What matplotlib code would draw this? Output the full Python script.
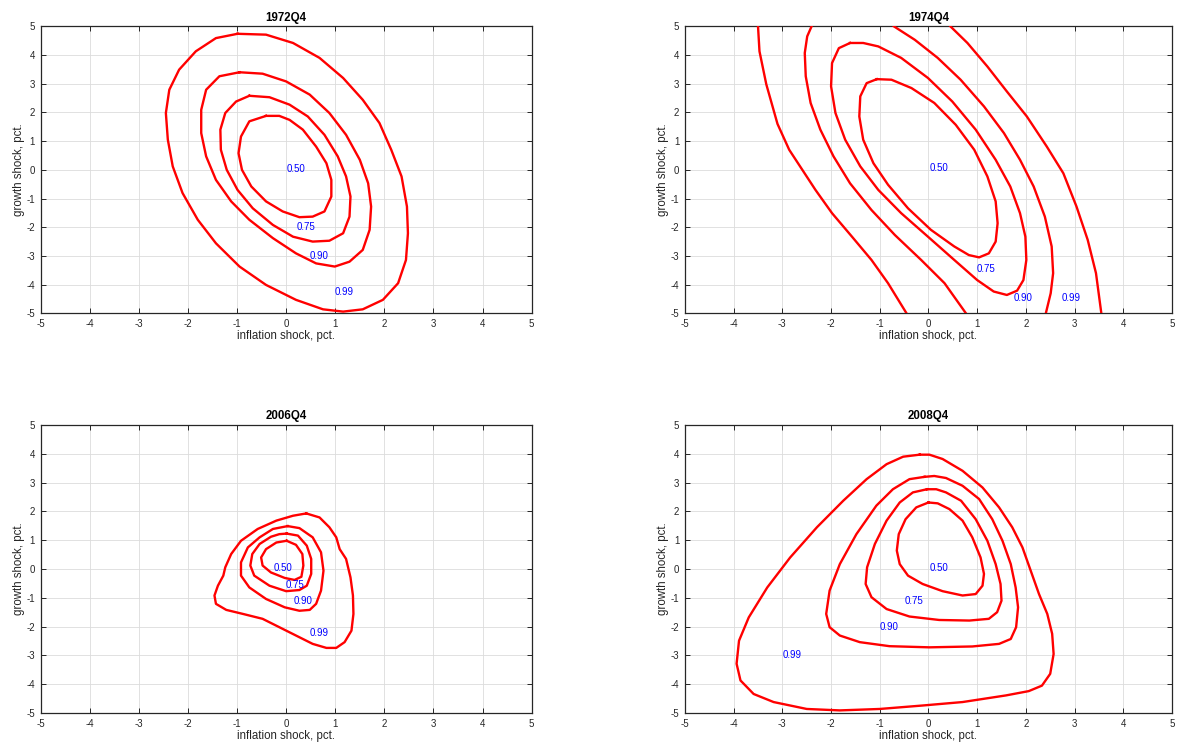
import matplotlib.pyplot as plt

# contour points, (inflation shock, growth shock)
q72_50 = [(-0.41, 1.88), (-0.75, 1.69), (-0.92, 1.16), (-0.97, 0.58), (-0.90, 0.0),
          (-0.71, -0.58), (-0.41, -1.10), (-0.07, -1.45), (0.27, -1.65), (0.54, -1.63),
          (0.78, -1.45), (0.92, -0.93), (0.92, -0.35), (0.82, 0.23), (0.61, 0.81),
          (0.34, 1.40), (0.07, 1.74), (-0.14, 1.88)]
q72_75 = [(-0.75, 2.58), (-1.02, 2.38), (-1.24, 1.98), (-1.34, 1.40), (-1.33, 0.70),
          (-1.21, 0.0), (-0.99, -0.70), (-0.68, -1.34), (-0.27, -1.92), (0.14, -2.33),
          (0.54, -2.50), (0.88, -2.47), (1.16, -2.21), (1.29, -1.63), (1.31, -0.93),
          (1.22, -0.23), (1.05, 0.47), (0.78, 1.22), (0.44, 1.86), (0.07, 2.27),
          (-0.34, 2.53)]
q72_90 = [(-0.95, 3.40), (-1.36, 3.26), (-1.63, 2.79), (-1.73, 2.09), (-1.73, 1.28),
          (-1.63, 0.47), (-1.43, -0.35), (-1.12, -1.10), (-0.75, -1.74), (-0.27, -2.38),
          (0.20, -2.91), (0.61, -3.26), (0.99, -3.37), (1.29, -3.20), (1.56, -2.79),
          (1.70, -2.09), (1.73, -1.28), (1.67, -0.47), (1.50, 0.35), (1.22, 1.22),
          (0.88, 1.98), (0.48, 2.62), (0.0, 3.08), (-0.48, 3.35)]
q72_99 = [(-0.99, 4.74), (-1.43, 4.59), (-1.84, 4.13), (-2.18, 3.49), (-2.38, 2.79),
          (-2.45, 1.98), (-2.41, 1.05), (-2.31, 0.12), (-2.11, -0.81), (-1.80, -1.74),
          (-1.43, -2.56), (-0.95, -3.37), (-0.41, -4.01), (0.20, -4.53), (0.75, -4.86),
          (1.16, -4.94), (1.56, -4.86), (1.97, -4.53), (2.28, -3.95), (2.44, -3.14),
          (2.48, -2.21), (2.46, -1.28), (2.35, -0.23), (2.14, 0.70), (1.90, 1.63),
          (1.56, 2.44), (1.16, 3.20), (0.68, 3.90), (0.14, 4.42), (-0.41, 4.71)]

q74_50 = [(-1.06, 3.16), (-1.27, 3.02), (-1.40, 2.56), (-1.42, 1.86), (-1.34, 1.05),
          (-1.13, 0.23), (-0.83, -0.52), (-0.42, -1.34), (0.05, -2.09), (0.53, -2.67),
          (0.83, -2.97), (1.04, -3.05), (1.24, -2.91), (1.38, -2.50), (1.42, -1.86),
          (1.38, -1.10), (1.21, -0.23), (0.94, 0.70), (0.56, 1.57), (0.12, 2.33),
          (-0.35, 2.85), (-0.76, 3.14)]
q74_75 = [(-1.61, 4.42), (-1.84, 4.24), (-1.98, 3.72), (-2.00, 2.91), (-1.91, 1.98),
          (-1.71, 1.05), (-1.40, 0.12), (-1.03, -0.70), (-0.56, -1.51), (-0.01, -2.33),
          (0.53, -3.14), (1.00, -3.84), (1.34, -4.24), (1.61, -4.36), (1.82, -4.21),
          (1.95, -3.84), (2.01, -3.14), (1.99, -2.33), (1.88, -1.51), (1.68, -0.58),
          (1.38, 0.35), (0.97, 1.40), (0.49, 2.38), (-0.01, 3.20), (-0.56, 3.90),
          (-1.03, 4.30), (-1.34, 4.42)]
q74_90_a = [(-2.40, 5.0), (-2.49, 4.65), (-2.54, 4.07), (-2.52, 3.26), (-2.42, 2.33),
            (-2.22, 1.40), (-1.95, 0.47), (-1.61, -0.47), (-1.17, -1.40), (-0.69, -2.27),
            (-0.15, -3.14), (0.33, -3.95), (0.77, -5.0)]
q74_90_b = [(-0.71, 5.0), (-0.28, 4.53), (0.19, 3.90), (0.66, 3.14), (1.14, 2.21),
            (1.55, 1.28), (1.88, 0.35), (2.16, -0.58), (2.39, -1.63), (2.53, -2.67),
            (2.56, -3.60), (2.51, -4.30), (2.41, -5.0)]
q74_99_a = [(-3.50, 5.0), (-3.47, 4.13), (-3.33, 2.98), (-3.10, 1.60), (-2.86, 0.70),
            (-2.59, 0.0), (-2.32, -0.70), (-1.98, -1.51), (-1.57, -2.33), (-1.17, -3.14),
            (-0.83, -3.95), (-0.45, -5.0)]
q74_99_b = [(0.45, 5.0), (0.80, 4.42), (1.21, 3.60), (1.61, 2.73), (2.02, 1.86),
            (2.43, 0.81), (2.77, -0.12), (3.04, -1.28), (3.27, -2.44), (3.44, -3.60),
            (3.55, -5.0)]

q06_50 = [(0.01, 0.98), (0.20, 0.84), (0.33, 0.52), (0.35, 0.12), (0.31, -0.27),
          (0.17, -0.38), (-0.03, -0.31), (-0.31, -0.12), (-0.48, 0.12), (-0.51, 0.40),
          (-0.41, 0.69), (-0.20, 0.92)]
q06_75 = [(0.01, 1.23), (0.24, 1.16), (0.42, 0.81), (0.51, 0.35), (0.51, -0.17),
          (0.42, -0.58), (0.27, -0.73), (0.0, -0.77), (-0.34, -0.58), (-0.65, -0.23),
          (-0.73, 0.12), (-0.69, 0.52), (-0.54, 0.87), (-0.31, 1.12), (-0.14, 1.21)]
q06_90 = [(0.03, 1.49), (0.27, 1.42), (0.54, 1.10), (0.71, 0.58), (0.76, -0.06),
          (0.71, -0.75), (0.61, -1.21), (0.48, -1.42), (0.27, -1.45), (-0.03, -1.33),
          (-0.41, -1.04), (-0.75, -0.64), (-0.92, -0.23), (-0.92, 0.23), (-0.78, 0.75),
          (-0.54, 1.10), (-0.27, 1.39)]
q06_99 = [(0.41, 1.93), (0.14, 1.85), (-0.20, 1.68), (-0.58, 1.39), (-0.92, 0.98),
          (-1.12, 0.52), (-1.24, 0.06), (-1.28, -0.23), (-1.39, -0.58), (-1.46, -0.92),
          (-1.43, -1.21), (-1.22, -1.42), (-0.88, -1.56), (-0.48, -1.73), (-0.14, -2.02),
          (0.20, -2.31), (0.54, -2.60), (0.82, -2.74), (1.02, -2.74), (1.19, -2.54),
          (1.33, -2.14), (1.37, -1.56), (1.36, -0.92), (1.31, -0.29), (1.22, 0.35),
          (1.09, 0.69), (1.02, 1.10), (0.88, 1.45), (0.68, 1.79)]

q08_50 = [(0.0, 2.31), (-0.25, 2.14), (-0.47, 1.73), (-0.61, 1.21), (-0.65, 0.64),
          (-0.59, 0.17), (-0.42, -0.23), (-0.12, -0.52), (0.29, -0.77), (0.70, -0.92),
          (0.97, -0.87), (1.11, -0.58), (1.14, -0.17), (1.07, 0.40), (0.90, 1.10),
          (0.70, 1.68), (0.43, 2.08), (0.19, 2.28)]
q08_75 = [(-0.03, 2.77), (-0.32, 2.66), (-0.59, 2.31), (-0.86, 1.68), (-1.10, 0.87),
          (-1.26, 0.06), (-1.29, -0.52), (-1.17, -0.98), (-0.86, -1.39), (-0.39, -1.65),
          (0.22, -1.77), (0.84, -1.79), (1.24, -1.73), (1.41, -1.50), (1.50, -1.10),
          (1.48, -0.52), (1.38, 0.17), (1.21, 0.98), (0.97, 1.73), (0.67, 2.37),
          (0.36, 2.66), (0.16, 2.77)]
q08_90 = [(-0.08, 3.20), (-0.39, 3.12), (-0.73, 2.77), (-1.07, 2.20), (-1.48, 1.21),
          (-1.82, 0.17), (-2.03, -0.75), (-2.10, -1.56), (-2.03, -2.02), (-1.82, -2.31),
          (-1.41, -2.54), (-0.80, -2.68), (0.02, -2.72), (0.90, -2.69), (1.45, -2.60),
          (1.69, -2.43), (1.80, -2.02), (1.84, -1.33), (1.79, -0.64), (1.69, 0.17),
          (1.52, 0.98), (1.31, 1.73), (1.04, 2.43), (0.70, 2.89), (0.36, 3.16),
          (0.12, 3.23)]
q08_99 = [(-0.18, 3.97), (-0.52, 3.90), (-0.86, 3.64), (-1.27, 3.12), (-1.75, 2.37),
          (-2.29, 1.45), (-2.84, 0.40), (-3.31, -0.64), (-3.69, -1.68), (-3.89, -2.49),
          (-3.94, -3.29), (-3.86, -3.87), (-3.59, -4.34), (-3.18, -4.62), (-2.50, -4.86),
          (-1.82, -4.91), (-1.0, -4.86), (-0.12, -4.74), (0.70, -4.62), (1.59, -4.39),
          (2.06, -4.24), (2.33, -4.05), (2.50, -3.64), (2.57, -2.95), (2.54, -2.25),
          (2.44, -1.56), (2.27, -0.87), (2.10, -0.06), (1.93, 0.75), (1.72, 1.45),
          (1.45, 2.14), (1.11, 2.83), (0.70, 3.41), (0.29, 3.82), (0.02, 3.97)]

levels = ['0.50', '0.75', '0.90', '0.99']
titles = ['1972Q4', '1974Q4', '2006Q4', '2008Q4']
label_pos_72 = [(0.0, 0.03), (0.22, -1.98), (0.48, -2.99), (0.99, -4.24)]
label_pos_74 = [(0.02, 0.05), (0.99, -3.45), (1.75, -4.45), (2.74, -4.45)]
label_pos_06 = [(-0.26, 0.04), (-0.01, -0.54), (0.15, -1.12), (0.48, -2.23)]
label_pos_08 = [(0.02, 0.03), (-0.49, -1.10), (-1.0, -2.0), (-2.99, -2.97)]


def closed(pts):
    return pts + [pts[0]]


def draw_panel(ax, title, closed_curves, open_curves, label_pos):
    for pts in [closed(p) for p in closed_curves] + open_curves:
        ax.plot([p[0] for p in pts], [p[1] for p in pts], color='#ff0000', lw=1.7,
                solid_joinstyle='round', zorder=3)
    for lev, (x, y) in zip(levels, label_pos):
        ax.text(x, y, lev, color='#0000ff', fontsize=7, ha='left', va='center', zorder=4)
    ax.set_xlim(-5, 5)
    ax.set_ylim(-5, 5)
    ax.set_xticks(range(-5, 6))
    ax.set_yticks(range(-5, 6))
    ax.grid(True, color='#dcdcdc', lw=0.6)
    ax.set_axisbelow(True)
    ax.tick_params(direction='in', top=True, right=True, length=3.5, width=0.7,
                   labelsize=7, colors='#262626', pad=4)
    for s in ax.spines.values():
        s.set_linewidth(0.9)
        s.set_color('#262626')
    ax.set_title(title, fontsize=8.3, fontweight='bold', pad=4)
    ax.set_xlabel('inflation shock, pct.', fontsize=8.3, color='#262626', labelpad=1)
    ax.set_ylabel('growth shock, pct.', fontsize=8.3, color='#262626', labelpad=1)


def main():
    plt.rcParams['font.family'] = ['Liberation Sans', 'DejaVu Sans']
    plt.rcParams['axes.unicode_minus'] = False
    fig = plt.figure(figsize=(11.82, 7.48), dpi=100)
    ax1 = fig.add_axes([0.0344, 0.5811, 0.4154, 0.3837])
    ax2 = fig.add_axes([0.5795, 0.5811, 0.4120, 0.3837])
    ax3 = fig.add_axes([0.0344, 0.0468, 0.4154, 0.3850])
    ax4 = fig.add_axes([0.5795, 0.0468, 0.4120, 0.3850])

    draw_panel(ax1, titles[0], [q72_50, q72_75, q72_90, q72_99], [], label_pos_72)
    draw_panel(ax2, titles[1], [q74_50, q74_75], [q74_90_a, q74_90_b, q74_99_a, q74_99_b],
               label_pos_74)
    draw_panel(ax3, titles[2], [q06_50, q06_75, q06_90, q06_99], [], label_pos_06)
    draw_panel(ax4, titles[3], [q08_50, q08_75, q08_90, q08_99], [], label_pos_08)

    fig.savefig('out.png', dpi=100)


if __name__ == '__main__':
    main()
